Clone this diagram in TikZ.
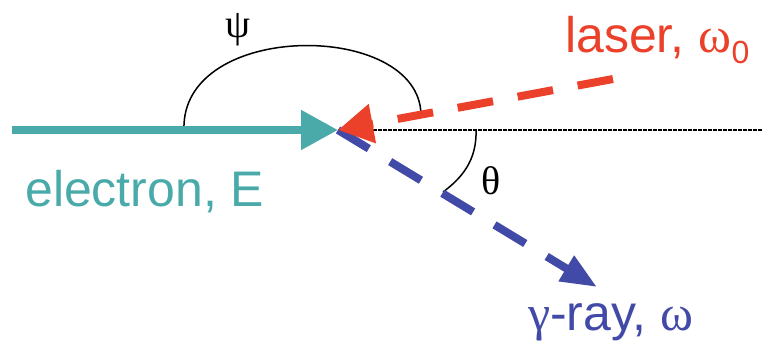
\documentclass[tikz,border=0pt]{standalone}
\usepackage{fontspec}
\setmainfont{Liberation Sans}
\newfontfamily\grk{Liberation Serif}
\usetikzlibrary{arrows.meta}
\definecolor{tealc}{RGB}{74,170,170}
\definecolor{redc}{RGB}{235,64,42}
\definecolor{bluec}{RGB}{66,74,168}
\begin{document}
\begin{tikzpicture}[x=1pt,y=-1pt,
  beam/.style={line width=8pt},
  dashbeam/.style={beam, dash pattern=on 36pt off 25pt},
  lbl/.style={inner sep=0pt, anchor=base west, font=\fontsize{50}{60}\selectfont},
  glbl/.style={inner sep=0pt, font=\grk\fontsize{40}{48}\selectfont},
  anglearc/.style={line width=1.5pt, black},
  refline/.style={line width=1.6pt, black, dash pattern=on 3.5pt off 1.5pt}]
\useasboundingbox (0,0) rectangle (763,343);
\coordinate (O) at (338,130);
\coordinate (Estart) at (12,130);
\coordinate (L) at (613,79);
\coordinate (G) at (597,287);
\coordinate (R) at (763,130);
\coordinate (P1) at (184,130);
\coordinate (P2) at (421,115);
\coordinate (T1) at (476,130);
\coordinate (T2) at (443,192);
% reference line
\draw[refline] (O) -- (R);
% angle arcs
\draw[anglearc] (P1) .. controls (180,20) and (420,20) .. (P2);
\draw[anglearc] (T1) .. controls (477,160) and (462,178) .. (T2);
% gamma ray
\draw[dashbeam, bluec, -{Triangle[length=36pt,width=28pt]}] (O) -- (G);
% electron
\draw[beam, tealc, -{Triangle[length=37pt,width=38pt]}] (Estart) -- (O);
% laser
\draw[dashbeam, redc, -{Triangle[length=35pt,width=38pt]}] (L) -- (O);
% labels
\node[glbl] (psi) at (238,30) {ψ};
\node[glbl] (theta) at (491,181) {θ};
\node[lbl, text=redc] (laser) at (565,52) {laser, {\grk ω}\raisebox{-11pt}{\fontsize{32}{36}\selectfont 0}};
\node[lbl, text=tealc] (electron) at (25,206) {electron, E};
\node[lbl, text=bluec] (gamma) at (528,330) {{\grk γ}-ray, {\grk ω}};
\end{tikzpicture}
\end{document}
